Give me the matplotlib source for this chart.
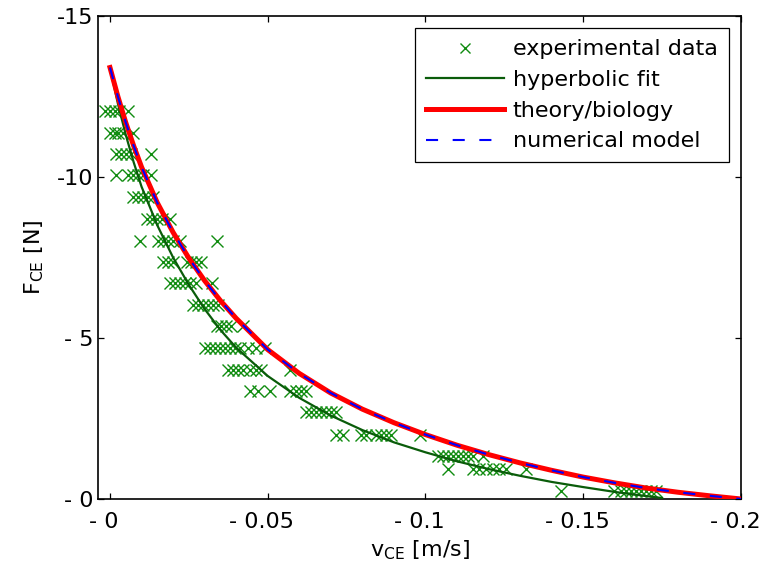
import matplotlib
matplotlib.use("Agg")
import matplotlib.pyplot as plt
import matplotlib.transforms as mtransforms
import numpy as np

plt.rcParams['font.family'] = ['DejaVu Sans']
plt.rcParams['mathtext.fontset'] = 'dejavusans'

# ---------------- data ----------------
# experimental data: rows of equal force (N, negative) and their velocities (m/s, negative)
exp_levels = [-12.05, -11.38, -10.70, -10.05, -9.38, -8.70, -8.02, -7.37, -6.70,
              -6.04, -5.37, -4.68, -4.01, -3.35, -2.70, -1.99, -1.34, -0.92, -0.25]
exp_rows = [
    [0.0017, 0.0, -0.0015, -0.0030, -0.0057],
    [0.0, -0.0015, -0.0025, -0.0040, -0.0073],
    [-0.0020, -0.0036, -0.0052, -0.0067, -0.0130],
    [-0.0020, -0.0057, -0.0073, -0.0089, -0.0104, -0.0130],
    [-0.0073, -0.0089, -0.0104, -0.0120, -0.0136],
    [-0.0116, -0.0132, -0.0148, -0.0164, -0.0190],
    [-0.0095, -0.0153, -0.0169, -0.0184, -0.0200, -0.0222, -0.0340],
    [-0.0169, -0.0184, -0.0200, -0.0243, -0.0258, -0.0274, -0.0290],
    [-0.0190, -0.0206, -0.0222, -0.0237, -0.0253, -0.0274, -0.0322],
    [-0.0264, -0.0280, -0.0296, -0.0311, -0.0327, -0.0343],
    [-0.0338, -0.0353, -0.0369, -0.0385, -0.0422],
    [-0.0300, -0.0316, -0.0332, -0.0348, -0.0364, -0.0380, -0.0396, -0.0411,
     -0.0438, -0.0464, -0.0490],
    [-0.0374, -0.0390, -0.0406, -0.0422, -0.0443, -0.0464, -0.0480, -0.0570],
    [-0.0445, -0.0470, -0.0506, -0.0570, -0.0591, -0.0606, -0.0622],
    [-0.0622, -0.0638, -0.0654, -0.0670, -0.0685, -0.0701, -0.0717],
    [-0.0717, -0.0738, -0.0796, -0.0812, -0.0844, -0.0860, -0.0876, -0.0891, -0.0981],
    [-0.1039, -0.1055, -0.1071, -0.1087, -0.1102, -0.1118, -0.1134, -0.1150, -0.1181],
    [-0.1071, -0.1150, -0.1171, -0.1192, -0.1213, -0.1234, -0.1255, -0.1319],
    [-0.1430, -0.1598, -0.1619, -0.1635, -0.1651, -0.1667, -0.1682, -0.1698, -0.1714, -0.1730],
]

# hyperbolic fit
fit_v = [0, -0.0025, -0.005, -0.0075, -0.01, -0.015, -0.02, -0.025, -0.03, -0.035, -0.04,
         -0.05, -0.06, -0.07, -0.08, -0.09, -0.10, -0.11, -0.12, -0.13, -0.14, -0.15,
         -0.16, -0.17, -0.175]
fit_F = [-13.39, -12.28, -11.31, -10.46, -9.70, -8.50, -7.50, -6.65, -5.90, -5.25, -4.70,
         -3.82, -3.14, -2.59, -2.14, -1.76, -1.45, -1.17, -0.93, -0.72, -0.53, -0.37,
         -0.22, -0.09, -0.03]

# theory/biology and numerical model (coincide)
theory_v = [0, -0.0025, -0.005, -0.0075, -0.01, -0.015, -0.02, -0.025, -0.03, -0.035, -0.04,
            -0.05, -0.06, -0.07, -0.08, -0.09, -0.10, -0.11, -0.12, -0.13, -0.14, -0.15,
            -0.16, -0.17, -0.18, -0.19, -0.20]
theory_F = [-13.40, -12.50, -11.69, -10.97, -10.31, -9.20, -8.28, -7.48, -6.78, -6.16, -5.61,
            -4.64, -3.90, -3.29, -2.79, -2.37, -2.00, -1.67, -1.38, -1.12, -0.89, -0.68,
            -0.50, -0.34, -0.21, -0.10, 0.0]
model_v = list(theory_v)
model_F = list(theory_F)

xticks = [0, -0.05, -0.1, -0.15, -0.2]
xticklabels = ['- 0', '- 0.05', '- 0.1', '- 0.15', '- 0.2']
yticks = [0, -5, -10, -15]
yticklabels = ['- 0', '- 5', '-10', '-15']

# ---------------- figure ----------------
fig = plt.figure(figsize=(7.62, 5.74), dpi=100)
ax = fig.add_axes([98/762, 1-499/574, (741-98)/762, (499-16)/574])

exp_v = [v for row in exp_rows for v in row]
exp_F = [lvl for lvl, row in zip(exp_levels, exp_rows) for _ in row]

ax.plot(exp_v, exp_F, linestyle='none', marker='x', ms=8, mew=1.0,
        color='#108c10', label='experimental data', zorder=2)
ax.plot(fit_v, fit_F, color='#0a5c0a', lw=1.6, label='hyperbolic fit', zorder=3)
ax.plot(theory_v, theory_F, color='#ff0000', lw=3.6, label='theory/biology', zorder=4)
ax.plot(model_v, model_F, color='#0000ff', lw=1.5, dashes=(5.8, 7.0),
        label='numerical model', zorder=5)

ax.set_xlim(0.0038, -0.2)
ax.set_ylim(0, -15)
ax.set_xticks(xticks)
ax.set_xticklabels(xticklabels)
ax.set_yticks(yticks)
ax.set_yticklabels(yticklabels)

ax.tick_params(axis='both', direction='in', length=4.5, width=0.9, labelsize=16,
               top=True, right=True, color='black')
ax.tick_params(axis='x', pad=9)
ax.tick_params(axis='y', pad=3)
for s in ax.spines.values():
    s.set_linewidth(1.2)
    s.set_color('black')

shift = mtransforms.ScaledTranslation(-6/100, 0, fig.dpi_scale_trans)
for lab in ax.get_xticklabels():
    lab.set_transform(lab.get_transform() + shift)

ax.set_xlabel(r'v$_{\rm CE}$ [m/s]', fontsize=16, labelpad=5)
ax.set_ylabel(r'F$_{\rm CE}$ [N]', fontsize=16, labelpad=8)

leg = ax.legend(loc='upper right', fontsize=16, numpoints=1, handlelength=3.5,
                handletextpad=0.4, labelspacing=0.48, borderpad=0.5,
                borderaxespad=0.55, fancybox=False, framealpha=1, edgecolor='black')
leg.get_frame().set_linewidth(0.9)
leg.legend_handles[0].set_markersize(7)

fig.savefig('out.png', dpi=100)
